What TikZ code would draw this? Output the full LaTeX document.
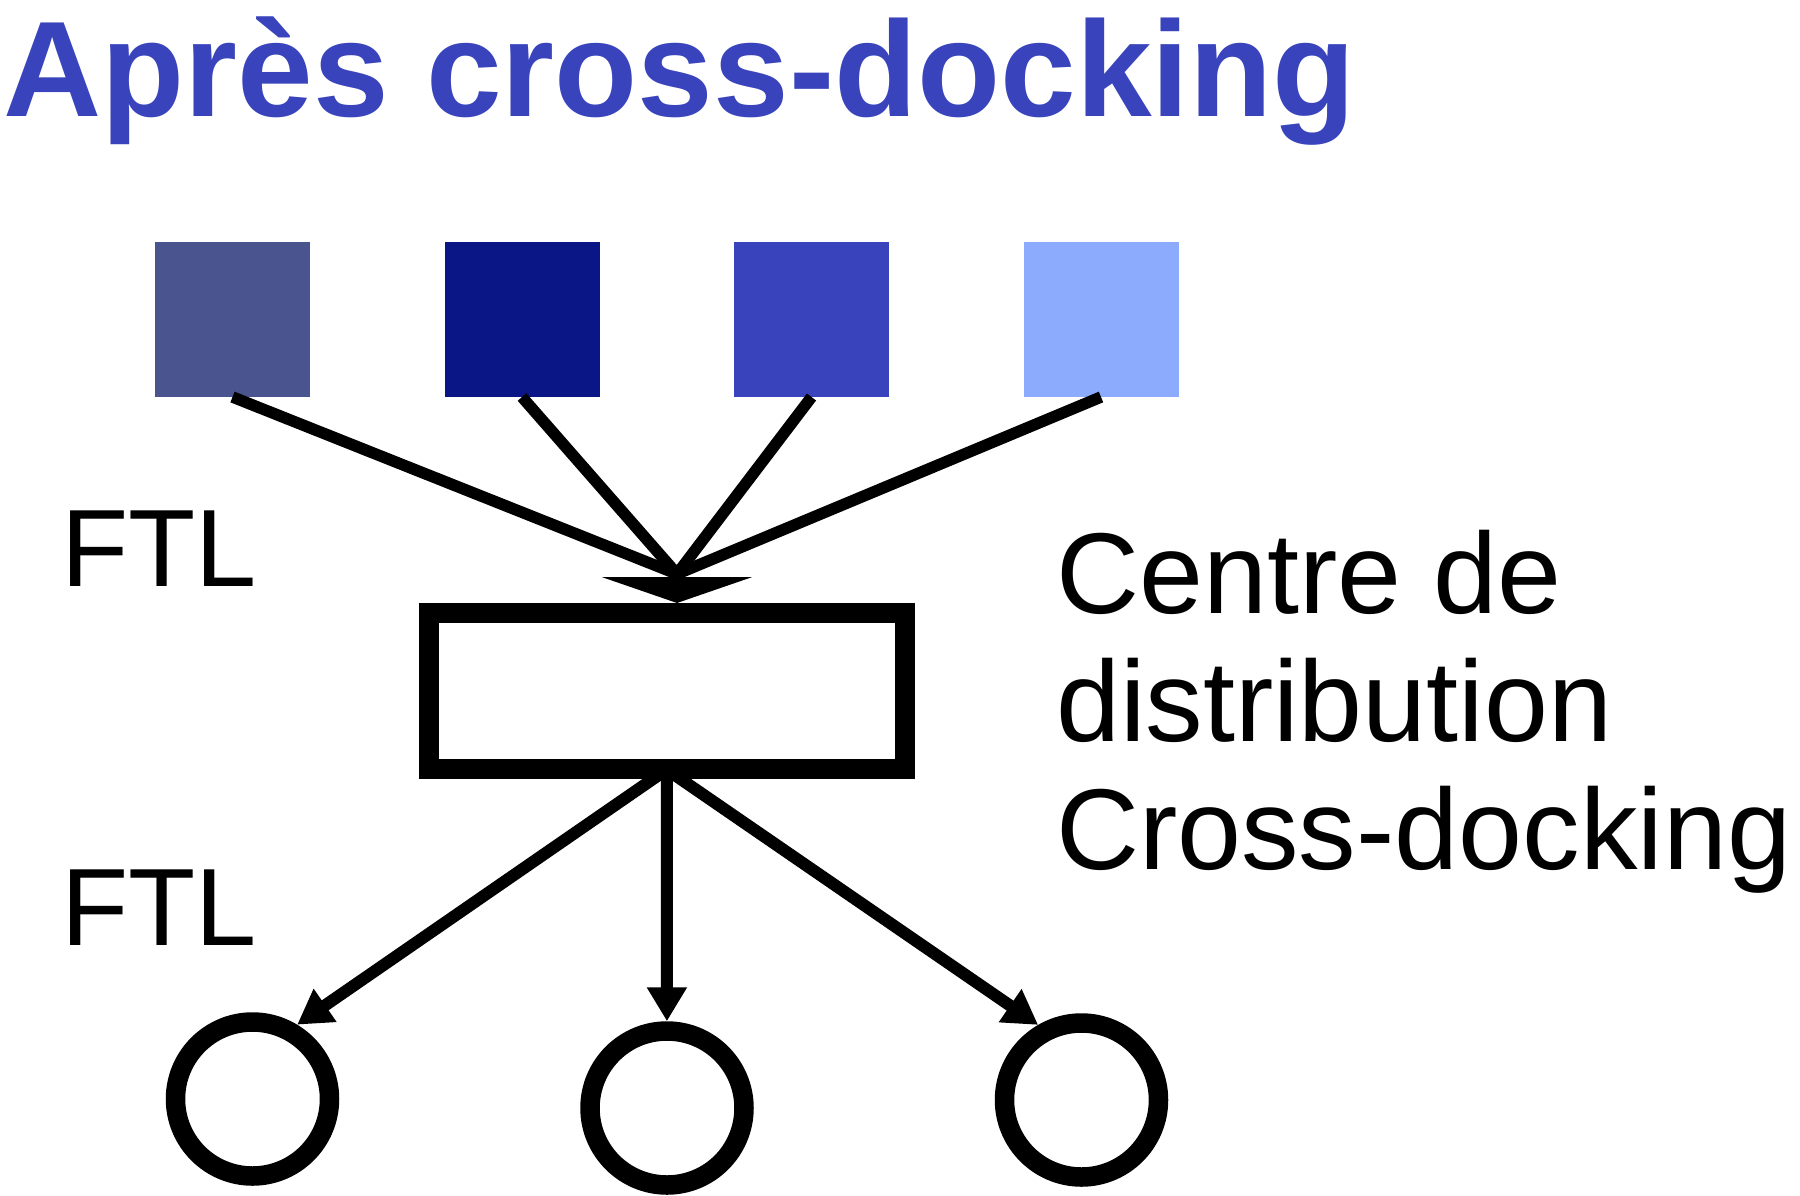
\documentclass[tikz,border=0pt]{standalone}
\usepackage{fontspec}
\setmainfont{Liberation Sans}
\usepackage{tikz}
\usetikzlibrary{%
  arrows.meta, positioning, shapes, calc
}
\usepackage{xcolor}
\definecolor{slateblue}{HTML}{4A548F}
\definecolor{navyblue}{HTML}{0A1586}
\definecolor{royalblue}{HTML}{3944BC}
\definecolor{paleblue}{HTML}{8CABFC}
\tikzstyle{snode} = [%
  rectangle,
  draw=none,
  minimum size=155pt,
  inner sep=0pt,
  outer sep=0pt
]
\tikzstyle{cnode} = [%
  circle,
  draw=black,
  line width=19.5pt,
  minimum size=154pt,
  inner sep=0pt,
  fill=none
]

\begin{document}
\begin{tikzpicture}[%
  x=1pt, y=-1pt,
  >={Triangle[width=38pt,length=34pt]},
  every node/.style={%
    inner sep=0pt,
    text=black
  },
  title/.style={font=\fontsize{136}{160}\selectfont\bfseries, text=royalblue},
  lbl/.style={font=\fontsize{110}{128}\selectfont},
  cdlbl/.style={font=\fontsize{115}{128}\selectfont, align=left},
  inlink/.style={draw=black, line width=11.5pt},
  outlink/.style={draw=black, line width=12pt}
]

  \useasboundingbox (0,0) rectangle (1800,1195);

  % Title
  \node[title, anchor=base west] (title) at (3,116) {Après cross-docking};

  % Nodes
  \node[snode, fill=slateblue] (sq1) at (232.5,319.5) {};
  \node[snode, fill=navyblue, right=134.5pt of sq1] (sq2) {};
  \node[snode, fill=royalblue, right=134.5pt of sq2] (sq3) {};
  \node[snode, fill=paleblue, right=134.5pt of sq3] (sq4) {};

  \node[draw=black, line width=20pt, minimum width=475.5pt,
    minimum height=155.5pt] (cdbox) at (666.75,690.75) {};

  \node[cnode] (c1) at (252.5,1099) {};
  \node[cnode] (c2) at (667,1108) {};
  \node[cnode] (c3) at (1081.5,1100) {};

  \coordinate (hub) at (677,574);

  % Labels
  \node[lbl, anchor=base west] (ftlin) at (61,586) {FTL};
  \node[lbl, anchor=base west] (ftlout) at (61,945) {FTL};
  \node[cdlbl, anchor=base west] (cdtext) at (1056,869)
    {Centre de\\distribution\\Cross-docking};

  % Inbound edges
  \foreach \s in {sq1,sq2,sq3,sq4}
    \draw[inlink] (\s.south) -- (hub);
  \draw[inlink, -{Triangle[width=150pt,length=26pt]}] (hub) -- (hub |- cdbox.north);

  % Outbound edges
  \draw[outlink, ->] ([yshift=9pt]cdbox.south) -- (c1.59);
  \draw[outlink, ->] ([yshift=9pt]cdbox.south) -- (c2);
  \draw[outlink, ->] ([yshift=9pt]cdbox.south) -- (c3.120);

\end{tikzpicture}
\end{document}
